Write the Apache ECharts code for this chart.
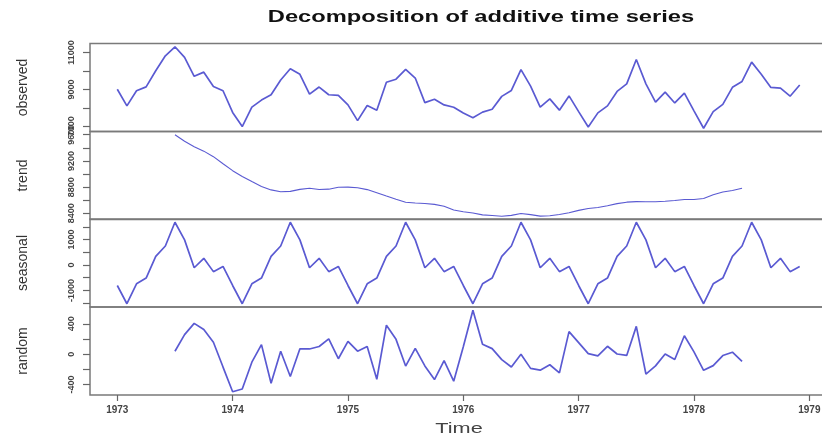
<!DOCTYPE html>
<html><head><meta charset="utf-8">
<script src="https://cdn.jsdelivr.net/npm/echarts@6/dist/echarts.min.js"></script>
<style>html,body{margin:0;padding:0;background:#fff}#c{width:822px;height:435px}</style>
</head><body><div id="c"></div>
<script>
// Monthly time index: 1973 Jan .. 1978 Dec
const startYear = 1973;
const panelNames = ['observed', 'trend', 'seasonal', 'random'];
const xTicks = [1973, 1974, 1975, 1976, 1977, 1978, 1979];

const observed = [
  9007, 8106, 8928, 9137, 10017, 10826, 11317, 10744, 9713, 9938, 9161, 8927,
  7750, 6981, 8038, 8422, 8714, 9512, 10120, 9823, 8743, 9129, 8710, 8680,
  8162, 7306, 8124, 7870, 9387, 9556, 10093, 9620, 8285, 8466, 8160, 8034,
  7717, 7461, 7767, 7925, 8623, 8945, 10078, 9179, 8037, 8488, 7874, 8647,
  7792, 6957, 7726, 8106, 8890, 9299, 10625, 9302, 8314, 8850, 8265, 8796,
  7836, 6892, 7791, 8192, 9115, 9434, 10484, 9827, 9110, 9070, 8633, 9240
];
const trend = [
  null, null, null, null, null, null,
  9599.4, 9500.1, 9416.2, 9349.3, 9265.2, 9156.2,
  9051.5, 8963.3, 8884.5, 8810.4, 8757.9, 8728.8, 8735.7, 8766.4, 8783.5, 8764.1, 8769.1, 8799.0,
  8799.7, 8790.1, 8762.6, 8715.9, 8665.3, 8615.5, 8570.0, 8558.0, 8549.5, 8537.0, 8507.4, 8450.1,
  8424.0, 8405.0, 8376.3, 8366.9, 8355.9, 8369.5, 8398.2, 8380.3, 8357.6, 8363.5, 8382.1, 8408.0,
  8445.5, 8473.5, 8490.1, 8516.8, 8548.1, 8570.6, 8578.7, 8577.8, 8577.8, 8584.1, 8597.0, 8612.0,
  8611.8, 8627.8, 8682.8, 8725.2, 8749.7, 8783.5,
  null, null, null, null, null, null
];
const seasonalFigure = [-805.9, -1523.3, -740.9, -514.8, 339.6, 744.8, 1679.5, 986.3, -109.3, 263.8, -261.0, -59.1];
const random = [
  null, null, null, null, null, null,
  38.1, 257.6, 406.1, 324.9, 156.8, -170.1,
  -495.6, -459.0, -105.6, 126.4, -383.5, 38.4, -295.2, 70.3, 68.8, 101.1, 201.9, -59.9,
  168.2, 39.2, 102.3, -331.1, 382.1, 195.7, -156.5, 75.7, -155.2, -334.8, -86.4, -357.0,
  98.9, 579.3, 131.6, 72.9, -72.5, -169.3, 0.3, -187.6, -211.3, -139.3, -247.1, 298.1,
  152.4, 6.8, -23.2, 104.1, 2.3, -16.4, 366.8, -262.1, -154.5, 2.1, -71.0, 243.1,
  30.1, -212.5, -150.9, -18.4, 25.7, -94.3,
  null, null, null, null, null, null
];
// axis ticks and labels per panel
const yTicks = [
  [7000, 8000, 9000, 10000, 11000],
  [8400, 8600, 8800, 9000, 9200, 9400, 9600],
  [-1500, -1000, -500, 0, 500, 1000, 1500],
  [-400, -200, 0, 200, 400]
];
const yLabels = [
  [7000, 9000, 11000],
  [8400, 8800, 9200, 9600],
  [-1000, 0, 1000],
  [-400, 0, 400]
];

const seasonal = observed.map((_, i) => seasonalFigure[i % 12]);
const seriesValues = [observed, trend, seasonal, random];

function pad(arr) {
  const v = arr.filter(x => x !== null);
  const lo = Math.min(...v), hi = Math.max(...v), p = (hi - lo) * 0.04;
  return [lo - p, hi + p];
}
const xr = pad(observed.map((_, i) => startYear + i / 12));

const tops = [43.5, 131.5, 219, 307];
const H = 88;
const grids = [], xAxes = [], yAxes = [], series = [];
const lineColor = '#5a5ad2';
const FONT = 'Liberation Sans';
seriesValues.forEach((vals, k) => {
  const [lo, hi] = pad(vals);
  grids.push({ left: 90, width: 737, top: tops[k], height: H, show: true,
    outerBoundsMode: 'none', containLabel: false,
    borderColor: '#7a7a7a', borderWidth: 1.5, backgroundColor: 'transparent' });
  const last = k === 3;
  xAxes.push({ type: 'value', gridIndex: k, min: xr[0], max: xr[1], position: 'bottom',
    axisLine: { show: false, onZero: false }, splitLine: { show: false },
    axisTick: { show: last, length: 6, lineStyle: { color: '#666', width: 1.2 }, customValues: xTicks },
    axisLabel: { show: last, customValues: xTicks, margin: 10, fontSize: 10, color: '#444',
      fontFamily: FONT, fontWeight: 'bold', hideOverlap: false, formatter: v => String(Math.round(v)) }
  });
  yAxes.push({ type: 'value', gridIndex: k, min: lo, max: hi,
    name: panelNames[k], nameLocation: 'middle', nameGap: 60, nameRotate: 90,
    nameTextStyle: { fontSize: 14, color: '#333', fontFamily: FONT },
    axisLine: { show: false, onZero: false }, splitLine: { show: false },
    axisTick: { show: true, length: 7, lineStyle: { color: '#666', width: 1.2 }, customValues: yTicks[k] },
    axisLabel: { customValues: yLabels[k], rotate: 90, margin: 14, fontSize: 9, color: '#444',
      fontFamily: FONT, fontWeight: 'bold', formatter: v => String(Math.round(v)) }
  });
  series.push({ type: 'line', xAxisIndex: k, yAxisIndex: k, showSymbol: false, connectNulls: false,
    lineStyle: { color: lineColor, width: k === 1 ? 1.1 : 1.7 }, silent: true,
    data: vals.map((v, i) => [startYear + i / 12, v]) });
});

const chart = echarts.init(document.getElementById('c'), null, { renderer: 'canvas' });
chart.setOption({
  animation: false,
  backgroundColor: '#fff',
  grid: grids, xAxis: xAxes, yAxis: yAxes, series: series,
  graphic: [
    { type: 'text', x: 481, y: 18, scaleX: 1.48, style: { text: 'Decomposition of additive time series',
      fontSize: 16, fontWeight: 'bold', fontFamily: FONT, fill: '#111', align: 'center', verticalAlign: 'middle' } },
    { type: 'text', x: 459, y: 429, scaleX: 1.55, style: { text: 'Time',
      fontSize: 14, fontFamily: FONT, fill: '#444', align: 'center', verticalAlign: 'middle' } }
  ]
});
</script></body></html>
